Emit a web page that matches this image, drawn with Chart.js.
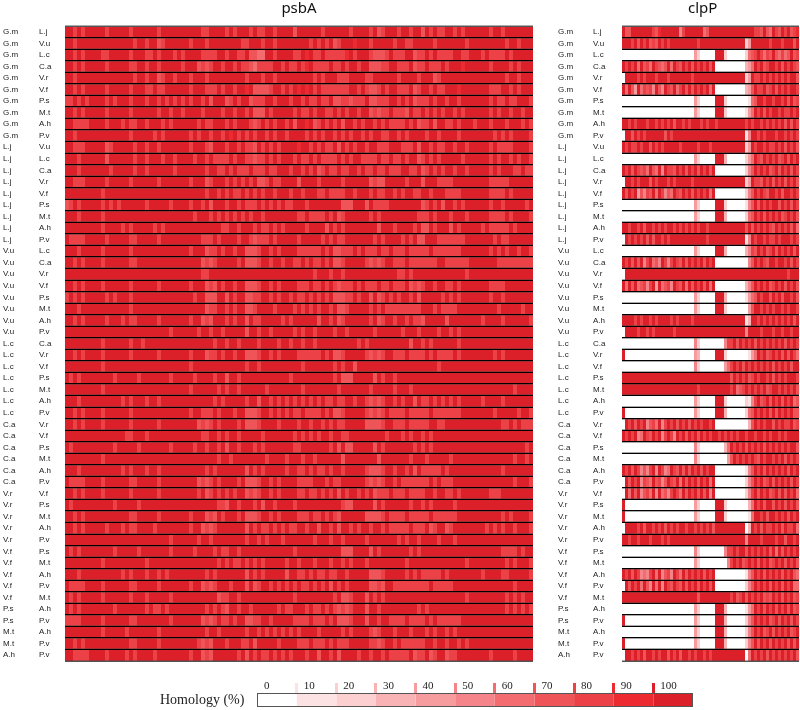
<!DOCTYPE html>
<html>
<head>
<meta charset="utf-8">
<title>psbA and clpP homology</title>
<script src="https://cdn.jsdelivr.net/npm/chart.js@4"></script>
<style>
  html, body { margin: 0; padding: 0; background: #fff; }
  canvas { position: absolute; }
  #psbaChart { left: 0; top: 0; }
  #clppChart { left: 545px; top: 0; }
  #legendChart { left: 160px; top: 670px; }
</style>
</head>
<body>
<canvas id="psbaChart" width="540" height="670"></canvas>
<canvas id="clppChart" width="255" height="670"></canvas>
<canvas id="legendChart" width="540" height="40"></canvas>
<script>
// Pair labels, one row per pairwise comparison
const speciesA = [
  "G.m","G.m","G.m","G.m","G.m","G.m","G.m","G.m","G.m","G.m",
  "L.j","L.j","L.j","L.j","L.j","L.j","L.j","L.j","L.j",
  "V.u","V.u","V.u","V.u","V.u","V.u","V.u","V.u",
  "L.c","L.c","L.c","L.c","L.c","L.c","L.c",
  "C.a","C.a","C.a","C.a","C.a","C.a",
  "V.r","V.r","V.r","V.r","V.r",
  "V.f","V.f","V.f","V.f","V.f",
  "P.s","P.s","M.t","M.t","A.h"
];
const speciesB = [
  "L.j","V.u","L.c","C.a","V.r","V.f","P.s","M.t","A.h","P.v",
  "V.u","L.c","C.a","V.r","V.f","P.s","M.t","A.h","P.v",
  "L.c","C.a","V.r","V.f","P.s","M.t","A.h","P.v",
  "C.a","V.r","V.f","P.s","M.t","A.h","P.v",
  "V.r","V.f","P.s","M.t","A.h","P.v",
  "V.f","P.s","M.t","A.h","P.v",
  "P.s","M.t","A.h","P.v","M.t",
  "A.h","P.v","A.h","P.v","P.v"
];
const legendTicks = [0, 10, 20, 30, 40, 50, 60, 70, 80, 90, 100];

// Homology per alignment window, in tens of percent (0-9, a = 100)
const psbaRows = [
  "aa8a8aaaaa 8aaaaa8aaa aaa8aaaaaa aaaa88aaaa 8a8aaa8a88 aa8aaaa7aa aaaa8aaaaa a8aaaa8a78 aaa8aa8aa7 a8a88aa8a8 aaaaaa8aa8 aaaaaaa",
  "aa8aaaaaaa aaaaaaa8aa 8aa78aaaaa a8aaa8aaaa aaaa88aaa8 aa8aaaaaaa a8a8a8a78a aa9aaa8aaa aa8aa88aaa aa8aaaaaaa 8aaaaaaaaa 8aa8aaa",
  "aa8a8aaaa8 8aaaaa8aaa 88a8aaa8a8 aaaa8888aa 8aa88a7766 aa8aaaa88a 9a88a88888 9a8aaa8777 8a888aa788 a8a8888aa8 8aaa8a8888 a8aaaaa",
  "aa8a8aaaaa 8aaaaa88aa 8aa8aaaaa8 aaa7878aa8 aa8a887688 88aa8a88a8 9a8888a88a 8aa8aa7778 8aa888a788 a888a8aaa9 aaaaaa8aaa a8a8aaa",
  "aa8aaaaaaa aaaaaaa8aa 8aa78aa8aa a8aaa8aaaa aaaaa8aaa8 aa8aaaaaaa aa8a8aaa88 8aaaa88aaa aaa8aaaa8a aa78aaaaaa aaaaaaaaaa 8aa8aaa",
  "aa8a8aaaaa 8aaaaa8aaa 88a88aaaaa a8aaa888a8 aa8aa9a777 78aa8a8a9a 9a8a888888 8aa8a8778a 8aa888a78a a8a88aaa9a aaaaaa888a a8a8aaa",
  "88a8a8aaaa 8a8aaa8aaa 8aa8a8a8a8 a8aa8a7aaa 78a8aa7888 aa8aaa8aa8 a88a88a778 87888a7788 8aa8a8a788 8a8aa8aa8a aaaaaa8a88 a88aaa8",
  "aa8a8aaaaa 8aaaaa8aaa aaa8aa8aa8 aaaa8aaaa8 aa8aa8a777 a8aaaaa8a8 8a8aa88a8a 8aa8aa7878 8a8887a88a 8a8a8aa8a8 aaaaaa8a8a a8aa8aa",
  "aa8888aaaa 8aaa8a88aa 8aaa8a8aaa aaa8a88aaa 8a8aaa878a 8a8aa8a7aa 9a78a8a8a7 aa8a8aa8a8 a8888a8a78 8a7aa88a8a aa8aaa8aaa 8aaa8a8",
  "aa8aaaaaaa aaaaaa8aaa aa8a8aaaaa a8a8aa8aa8 a9a8a8a8aa 8a8aa8aaaa 8a8a8aa8a8 a8aa8a8aa8 8aa8a8aaaa 8aa8aaaa8a aaaaaaa8a8 a8aaaa8",
  "aa888aaaaa 78aaaaa8aa 8aa8aaaaaa a8aaa87aaa 8aa8a887a8 a8a8aaaa9a a8a8a88a7a 8a8aa8aa88 8aaa888a7a a8a88aa8aa 8aaaaa8a88 88aaaa8",
  "aaa8aaaaaa 7aaaaaa8aa 8aaa8aa8aa aa8aa8a888 8a8aa88788 a8a8aaa8a8 8a8a8888a8 a8aa8888a8 8a88a8aa78 a8a8aaaaa8 aaaaaa8a8a a8a8aa8",
  "aaa8aaaaaa a8aaaaa8aa 8aaaaaa8aa aaaaa8aa88 a8a888a888 a88aaa8aa8 a8a78a88a8 8aa8a88a88 a888aa88a7 8a8a8aa8aa 8aaaaa8a8a aa88a88",
  "aa888aaaaa 8aaaaa8aaa aaa8aaaaaa a8aaa78aaa 8a8a8a8a77 8a88aaaa7a aaa8aaaaa8 aaaaaa7877 aaaaa8aaa7 aaa8888aaa aaaaaa8888 8aaaaaa",
  "aaaaaaaaa8 aaaaaaaaaa aaaaaaaaaa aaaaa8aa8a 8a88a8a8a8 aa8aaa8aa8 aaa88a8888 aa8aaa8a88 aa8a8aa88a a8aaa8888a aaaaaa8888 a8aaaaa",
  "78a8aaaaa8 a8a8aaaaaa 8aaaaa8aaa a8aa8a7aaa 8aa8a888a8 a8a8a88aaa 8aaaaaaaa7 77aaa7a888 8aaaaaaaa7 8a8a7aa8a8 aaaaaa8aa8 aaaaa8a",
  "aaa8aaaaa8 aaaaaaaaaa aaaaaaaaaa aa8aaa8a8a 8a8a8a8aa8 aaaaaaaa88 a8888a8a78 aaaaaa8a8a aaaaaaaa88 8a8aaa8aaa 8aaaaa8888 a8aaaa8",
  "aaaaaaaaa8 aaaa8a8aaa aa8a8aaaaa aaaaaaaaa8 8aa8aaa8a8 8a8a8aaaaa 8aaaa7a8a8 aaaaaaaa7a aa8aaaa8a7 7a8aaa7a8a aaaa8a8888 8a8aaaa",
  "a8888aaaaa 8aaaaa88aa aaa8aaaaaa aaaa888a8a aaa8aa8788 8a8aaaaa8a aaaa8a8a88 aaaaaaa8a8 aaaa8a8a77 aaa8888888 aaaaaaa8a8 8aaaaaa",
  "aaa8aaaaa8 aaaaaa8aaa aaaaaaaaaa a8aaa788a8 aa8aa7778a a8a8aaaa88 8888a8a778 88a8a888a8 8a888a8888 8a8888888a aaaaaa8a8a 8aa8aa8",
  "aa8a8aaaa8 aaaaaa88aa aaaaaaaaaa aaaa7878aa aaa8a7778a a8aa8aa88a 8a88a8a778 aaaaa87878 aa888a8888 888aa88888 8aaaaaaa88 8888888",
  "aaaaaaaaaa aaaaaaaaaa aaaaaaaaaa aaaa88aaaa aaaaaaaaaa aaaaaaaaaa aa8aaa8aa8 aaaaaaaaaa aaa88a8aaa aaaaaaaaaa 8aaaaaaaaa aaaaaaa",
  "aa8a8aaaa8 aaaaaa8aaa aaa8aaaaaa a8aaa787a8 aa8aa7778a a8a8aaaa88 8a88a8a878 88a8a888a8 8a888a7878 aa8aa88a8a aaaaaa8888 aaaaaaa",
  "8a8a8aaaaa 8a8aaa8aaa aaaaaaaaaa aa8aa777aa 7a8aa7788a a8a8aa8a88 a8a8a8a777 88a8aa7a78 a8a8aa8a7a aaaa8a8a8a aaaaaa8aa8 aaaaaaa",
  "aaa8aaaaaa aaaaaa8aaa aaaaaaaaaa aaaaa788aa 8a8aa778aa aa8aaaa8a8 a8a8aa8a77 8aaaaa8a8a 888888888a aa8a8888aa aaaaaaaa8a aaaa8aa",
  "aa8a8aaaaa 8aaa8a88aa aaa8aaaaaa a8aa787aaa 8a8aa7a88a aaaa8a8aaa aaa7aa8a78 aaaaaa8a78 aa8aa8a887 aaaaa7aaaa aaaa8aaaa8 aaaaaa8",
  "aaaaaaaaaa aaaaaaaaaa aaaaaa8aaa aaa8aa8aa8 aaaaa7aa8a a8aaaaa8a8 aa8aaaa8aa 8aaaaaa8aa aaaa8aaa8a aaa8aa8a8a aaaaaaaaaa aaaaaaa",
  "aaaaaaaaa8 aaaaaa8aa8 aaaaaaaaaa aaaaaaa8aa 8aa8aaaa8a aaa8aa8aa8 aa8aaaaaaa aaa8a8aaaa aaaaaa7aa8 a8aaaaaa8a aaaaaaaaaa aaaaaaa",
  "aa8a8aaaa8 aaaaaa8aaa aaa8aaaaaa a8aaa788a8 aa8aa7778a a8a8aaaa88 8888a8a778 aaaaa87878 aa888a8888 a8a8888a8a aaaaaaa8a8 aaaaaaa",
  "aaaaaaaaa8 aaaaaaaaaa aaaaaaaaaa a8aaaaaaaa aaaaa8aa8a aaaaaaaaa8 aaaaaaa8a8 aa7aaaaaaa aaaaaaaaaa aaa8aaaaaa aaaaaaaaaa aaaaaaa",
  "a8a8aaaaaa aa8aaaaa8a aaaaaa8aaa aa8aaaa8aa 7aa8aaaaaa aaaaaa8aaa aaaaaaa8a7 77aaaaa7a8 aa8aaaaaaa aaaaaaaaaa aaaaaaaaaa aaaaaaa",
  "aaaaaaaaa8 aaaaaaaaaa aaaaaaaaaa a8aaaaaa8a 8aa8aaaaaa 8aaaaaaaa8 aaaaaaaa8a aaaaaa8aaa aa8aaa8aaa aaaaaaaaaa aaaaaaaaaa aa8aaaa",
  "aaa8aaaaaa aaaa8a8aaa 8aa8aaaaaa aaaaaaa8a8 aaaaa8aa7a a8a8a8a8a8 a8a8a88a88 aa8aa87878 aa8a8aa7a8 8a8a8a8a8a aaaa8aaaa8 aaaaaaa",
  "aa8a8aaaa8 aaaaaa8aaa aaaaaaaaaa a8aa888a8a aa8aa7778a a8a8a8a88a 8888a8a778 aaaaa87878 a8888a8888 8a8888888a aaaaaaa8aa aaa8aa8",
  "aa8a8aaaa8 aaaaaa8aaa aaa8aaaaaa aaa7878a8a aaa8a7778a aaa8aaaa8a a8aa8a8a88 aaaaa77778 aa888a8888 8aa88aaaaa aaaaaaaaa8 8a8a888",
  "aaaaaaaaaa aaaaa88aaa 8aaaaaaaaa aaaa88aa8a 8aa8aaaaa8 aaaaaaa8a8 a8a8aa8aa8 8aaaaaaaaa 8aaa8a8aa8 a8aaaaaaaa aaaaaaaaaa aaaaaaa",
  "a8aaaaaaaa aa8aaaaa8a aaaaaa8aaa aa8aa8aa8a 7aa8aaa8a8 aaaaaaa88a aaaaaa8a7a 77aaaaa7a8 aaaaaaa8a8 a8aaaaaaaa aaaaaaaaaa aaaaa8a",
  "aaaaaaaaa8 aaaaaaaaaa aaaaaaaaaa aaaaaaaa8a a8aaaaaaaa 8aaaa8aaa8 aa8aaaaaa7 aaaaaaaa7a aaaaaa8aaa 8aaaaa8aaa aaaaaaaaaa aa8aa8a",
  "aaa8aaaaaa aaaa8a8aaa 8aa8aaaaaa aaaaa8a8aa aaaaa7a8a8 aaaaa8aa88 a8a88a8aa8 aaaaa87778 aa8aa8a7a8 8888a8aaaa aaaaaaaaa8 aaaaaaa",
  "a8888aaaa8 aaaaaa88aa aaa8aaaaaa aaa7878a8a aaa8a7778a a8a8aaaa88 88aaa8a88a aaaaa87878 aa8a888888 8a8a888aaa aaaaaaaaaa aa8aaa8",
  "aa8a8aaaa8 aaaaaa8aaa aaa8aaaaaa aaa8a78a8a 8a8aa7878a a8a8aaaa88 a88a8a8a7a 8aa8a8a788 8a888a8888 aa8aa88a8a aaaaaa888a aaaaaaa",
  "a8aaaaaaaa aa8aaaaa8a aaaaaaaaaa aaaaaaaa88 7aa8aaa8a7 aa8aaaa8aa aaaaaaaaa8 77aaaaa7a8 aaaaaa8aa8 a8aaaaa8aa aaaaaaaaaa aaaaaaa",
  "aa8a8aaaaa aaaaaa88aa aaa8aaaaaa a8aaa787a8 aaa8a7778a a8a8aaaa88 8a88a8a87a aaaaa77778 a8888a8888 8a888888aa aaaaaaaaa8 a8aaaa8",
  "aa8a8aaaaa 8aaa8a88aa aa8aaaaaaa a8aa7878aa aaaaa7a8a8 8a8a8a88aa 8aa7aa8a7a a8a8aa8aa8 a88888a888 a78aa78aaa aaaaa8a8a8 aa8aaa8",
  "aaaaaaaaaa aaaaaaaaaa aaaaaa8aaa aaa8aa8aaa aaaaa8aa8a 8aaa8aaaaa aa8aaa8aa8 aaaaa8aaaa aaa8a8aa8a aaa8aaa8aa aaaaaaaaaa aaaaaaa",
  "a8a8aaaaaa aa8aaaaa8a aaaaaa8aaa aa8aaaa8a8 8aa8aaaaaa aaaaaaa8aa aaaaaaaaa7 77aaaa7a8a aaaaaa8a8a aaaaaaaaaa aaaaaaaaa8 888a8aa",
  "aaaaaaaaa8 aaaaaaaaaa 8aaaaaaaaa aaaaaaaa8a 8a88a8a8a8 aaaaa8aa8a aa8aaa8aa8 a8aaa8aaaa aaaaa8aaaa aaaaaaaaaa 8aaaaaaaaa 8a8aaa8",
  "aaa8aaaaaa aaaa8a8aaa 8aa8a8aaaa aaaaa8a8aa aaaaa7a8a8 aaaaa7aa88 a8a88a88aa 8aaaaa7778 aaaaa8a8a8 8888a8aaaa aaaa8aaaa8 8aaaaa8",
  "a8888aaaa8 aaaaaa88aa aaa8aaaaaa a8aa7878aa a8aaa7a78a a8a8a8a8a8 8a8a8a7a8a 8aaaaa7787 aa88888888 8a88888aaa aaaaaaaaaa aa8aaaa",
  "a8a8aaaaa8 aaaaaa8aaa 8aaaaa8aaa aaaaaaaa78 8aa8aaaaaa aaaaaaa8aa aaaaaaa8a7 78aaa7a8a8 aaaaaaaaaa aaaaaaaaaa 8aaaaaaaaa 8a8a8aa",
  "a8a8aaaaaa aa8aaaaaaa 8a88a8aaaa aaaaa8a8a8 7aa8aa8aaa aaa8a88aaa 8a88a8a878 78aaa7aa8a aaaaaaaa8a 8aaaaaaaaa aaaaaaaaaa 8a8a8a8",
  "8888aaaaa8 aaaaaa88aa aaaaaa8aaa aaaa7878a8 8a8aa7788a a8aaaaa888 8a888a8a77 78aaa7aa8a a8888a8888 a8a888888a aaaaaaaaaa aaaaaaa",
  "aaaaaaaaa8 aaaaa8aaaa aaa8aaaaaa aaaaa8aa8a aaaaa8aa8a 8a8a8a8a8a aaa8aaaaa8 a8aaaa878a aa8aaa8aaa 8a8aa8a8aa aaaaaaaaaa aaaaaaa",
  "aa8a8aaaaa aaaaaa88aa aaa8aaaaaa aaa8787aaa 8aaa88a7aa aaa8aaaa88 8a888a8a88 8aaaaa8878 aa8a888888 aa8aa8aa8a 8aaaaaaaaa aaaaaaa",
  "aa8888aaaa 8aaaa8a8aa aa8aaaaaaa a8aa787aaa aaa8a7a8a8 8a8a8a8aaa 8aa7aa8a7a aaa8aa8aa8 a88888a788 a78aa788aa aaaaaa8aaa aa8aaaa"
];
const clppRows = [
  "a77aaaaaaa 879aaaaaa5 8aaaaaa67a aaaaaaaaaa aaaa887a76 a87a8a789",
  "aaa8a7a8a7 87a8a8aaaa aaaaa8aaaa aaaaaaaaaa a24aaaaaa8 aaa8aaa7a",
  "0000000000 0000000000 0000420000 0aaa200000 02678a8687 a76867a78",
  "a8a8a6a786 a8767a6a87 a8a7a8a8a7 a000000000 0346a8a78a a8a7a8a87",
  "0aaaa8a8aa a8aaa8aaaa aaa8aaaaaa aaaaaaaaaa a24a88a8a8 a8a8a8aa7",
  "a6a74a6878 5a75a87a68 a7a7a8a8a6 a000000000 0347a88a78 a7a8a8aa8",
  "0000000000 0000000000 0000420000 0aaa200000 00167aa8aa 8aa8a7a78",
  "0000000000 0000000000 0000420000 0aaa200000 0146a8a7a8 aa8a88a8a",
  "aa8a8aaa8a a8a8a8a7aa 8a8aaa8a8a a8aaaaaaaa a8a8aa8a8a 8a8a7a7a8",
  "0aa7a8a8aa aaaa7a8aaa aaaaaaaaaa aaaaaaaaaa a15aa8a8aa a8aa8a8a8",
  "a8a88a8aa7 a8a8aaaaa8 aaaaa8aaa8 aaaaaaaaaa a24a8aa8a8 8a8a7a8a7",
  "0000000000 0000000000 0000420000 0aaa300000 0246a87a8a 8a78a7a8a",
  "a8a7a8786a 76a5a887a8 a7a8a7a8a7 a000000000 0257a8a8a7 8a7a8a7a8",
  "0aa8a8aaa7 a8aaa8a8aa aaa8aaaaaa aaaaaaaaaa a24a887a8a 7a8a7a8a7",
  "a7a8a47587 a6a8576a87 a8a7a8a8a6 a000000000 0257a8a87a a8a7aa8a8",
  "0000000000 0000000000 0000420000 0aaa200000 0157a7a8a8 aa7a8a7a8",
  "0000000000 0000000000 0000420000 0aaa300000 0267a8a7a8 a8a78a8a7",
  "aa8aa8a7aa 8a8a8aa8a8 a8a8a8aa8a aaaaaaaaaa a7a7a8a8a8 7a8a8a7a6",
  "0a8a8a8a7a 7aa8a8aaaa aaaaaaaa8a aaaaaaaaaa a15a8aa8a8 8a8aaa8a8",
  "0000000000 0000000000 0000420000 0aaa300000 03587a8a78 a7a8a8a7a",
  "a8a7a7a58a 675a858a87 a7a8a8a7a8 a000000000 0057a8a87a a8aa8a7a8",
  "0aaaaaaaaa aaaaaaaaaa aaaaaaaaaa aaaaaaaaaa aaaaaaaaaa aaaaa8aaa",
  "a6a7a67858 a4a6785a87 a6a7a8a7a6 a000000000 0357a8a8a7 8a8a7a8a7",
  "0000000000 0000000000 0000420000 0aaa300000 01467a8aa7 a8a7aa8a7",
  "0000000000 0000000000 0000420000 0aaa200000 0047aa8a8a 8aa8a8aa8",
  "aaaa8a8aa8 a8aaaa8a8a aaa8aaaaaa aaaaaaaaaa a13aa8a8a8 a8a8a8a7a",
  "0aaaa8aa8a 8aaaaaa8aa aaaaaaaaaa aaaaaaaaaa a5aaaa8aaa 8aa8aa8aa",
  "0000000000 0000000000 0000520000 0000588a7a 8a8a7a8a8a 8a8a7a8a8",
  "a000000000 0000000000 0000430000 0aaa200000 00146a8a78 a8a7a7a86",
  "0000000000 0000000000 0000520000 0000468a8a 7a8a8a8a8a 7a8a8a7aa",
  "aaaaaaaaaa aaaaaaaaaa aaaaaaaaaa aaaaaa7a8a 8a78a8aa8a 7a8a8aaa8",
  "aaaaaaaaaa aaaaaaaaaa aaaaa8aaaa aaaaaa8a67 8a8a8a8a78 aa8a8a8a7",
  "0000000000 0000000000 0000420000 0aaa200000 02158a78a7 a8a7a8a67",
  "a000000000 0000000000 0000420000 0aaa300000 0267a8a8a7 a7a8a8a77",
  "0a8a7a8a57 86a58a8a7a 8a7a8a8aa8 a000000000 0037a8a8aa 7a8a88a78",
  "a8a8a56a87 a8a58a85a8 a7a8a7a8a8 aa8a8a8a8a a8aa8aa8a8 aa8a8aaaa",
  "0000000000 0000000000 0000520000 000036a8a8 a7a8a8a7a8 a8a8a8aa7",
  "0000000000 0000000000 0000520000 0000047a8a 8a8a87a8aa 8a8a7a8a8",
  "a8a7a85758 a5a856a87a 7a7a8a7a8a a000000000 0157a8a7a8 a8a8a7a8a",
  "0a7a8a5876 a7857a87a6 a7a8a7a8a6 a000000000 0257a8a78a 7a8a8a7a8",
  "0a6a7a5786 a5a6758a86 a7a8a7a7a5 a000000000 0258a7a8a7 8a7a7a8a6",
  "a000000000 0000000000 0000420000 0aaa200000 0036a8a7aa 7a8a7a8a7",
  "a000000000 0000000000 0000420000 0aaa200000 0016aa8a7a a8a8a7a8a",
  "0aaaa8a7aa 8a8a7a8a8a a8aa8a8a8a 7aaaaaaaaa a03a8a7a88 a8a7a88a6",
  "aa8aa8aaa8 aaa8a8aaaa aaaaaaaaaa aaaaaaaaaa a5aaaa8aaa a8aa7aa8a",
  "0000000000 0000000000 0000520000 0000588a8a a7a8a8a8a7 a6a7a8a8a",
  "0000000000 0000000000 0000420000 0000058a8a 78a8a7a8a7 8a8a7a8a7",
  "a8a7a85658 a6a5785a86 a7a8a8a7a8 a000000000 0157a8a7a8 a8a7a8a76",
  "0a7a8a6a75 a6a5a87a87 a7a8a7a8a7 a000000000 0257a8a8a7 a8a7a8a66",
  "aaaaaaaaaa aaaaaaaaaa aaaaa7aaaa aaaaaa8a78 a7a8a8a787 a8a7a8a78",
  "0000000000 0000000000 0000420000 0aaa300000 0146a8a7a8 a7a8a7a78",
  "a000000000 0000000000 0000420000 0aaa300000 0257a8a8a7 8a7a8a7a8",
  "0000000000 0000000000 0000420000 0aaa300000 0257a8a78a 7a8a8a78a",
  "a000000000 0000000000 0000420000 0aaa300000 0257a7a8a7 a8a8a7a7a",
  "0aa8a8a7aa 8a8aa7a8a7 aa8a8aa8a8 aaaaaaaaaa a06a8a8a7a 8a8a8a8a7"
];

// Colour for each legend step, white at 0 to dark red at 100
const homologyColors = [
  "#ffffff", "#fde2e3", "#fcd0d1", "#f9b3b5", "#f69c9f", "#f48489",
  "#f26c70", "#ef5458", "#ec4146", "#ec2a2f", "#dc2029"
];

const labelFont = { family: "'Liberation Sans'", size: 8 };

// One stacked dataset per alignment window, coloured per row
function buildWindows(rows) {
  const cells = rows.map(r => r.replace(/ /g, ""));
  const windows = [];
  for (let w = 0; w < cells[0].length; w++) {
    windows.push({
      data: cells.map(() => 1),
      backgroundColor: cells.map(c => homologyColors[parseInt(c[w] || "a", 11)]),
      borderWidth: 0,
      inflateAmount: 0,
      categoryPercentage: 1,
      barPercentage: 1,
    });
  }
  return windows;
}

function renderPanel(id, title, rows, padding, widthA, widthB) {
  const datasets = buildWindows(rows);
  const ctx = document.getElementById(id).getContext("2d");

  new Chart(ctx, {
    type: "bar",
    data: { labels: speciesB, datasets },
    options: {
      indexAxis: "y",
      responsive: false,
      animation: false,
      layout: { padding },
      plugins: {
        legend: { display: false },
        tooltip: { enabled: false },
        title: {
          display: true,
          text: title,
          fullSize: false,
          color: "#111",
          font: { family: "'Noto Sans'", size: 15, weight: "normal", lineHeight: 1.2 },
          padding: { top: 0, bottom: 8 },
        },
      },
      scales: {
        x: { type: "linear", stacked: true, display: false, min: 0, max: datasets.length },
        y: {
          stacked: true,
          weight: 0,
          afterFit: s => { s.width = widthB; },
          border: { display: false },
          grid: {
            z: 2,
            offset: true,
            drawTicks: false,
            color: c => (c.index === 0 || c.index === undefined ? "#555" : "#000"),
          },
          ticks: { autoSkip: false, padding: 0, crossAlign: "far", color: "#222", font: labelFont },
        },
        rowA: {
          type: "category",
          labels: speciesA,
          position: "left",
          offset: true,
          weight: 1,
          afterFit: s => { s.width = widthA; },
          border: { display: false },
          grid: { z: 1, offset: true, drawTicks: false, lineWidth: 2, color: "rgba(70,70,70,0.45)" },
          ticks: { autoSkip: false, padding: 0, crossAlign: "far", color: "#222", font: labelFont },
        },
      },
    },
  });
}

// Colour scale under the panels
function renderLegend() {
  const ctx = document.getElementById("legendChart").getContext("2d");
  const frame = {
    id: "frame",
    afterDraw(chart) {
      const a = chart.chartArea;
      chart.ctx.strokeStyle = "#555";
      chart.ctx.lineWidth = 1;
      chart.ctx.strokeRect(a.left + 0.5, a.top + 0.5, a.width - 1, a.height - 1);
    },
  };

  new Chart(ctx, {
    type: "bar",
    data: {
      labels: ["Homology (%)"],
      datasets: legendTicks.map((t, i) => ({
        data: [1],
        backgroundColor: homologyColors[i],
        borderWidth: 0,
        inflateAmount: 0,
        categoryPercentage: 1,
        barPercentage: 1,
      })),
    },
    options: {
      indexAxis: "y",
      responsive: false,
      animation: false,
      layout: { autoPadding: false, padding: { left: 0, right: 7, top: 0, bottom: 3 } },
      plugins: { legend: { display: false }, tooltip: { enabled: false } },
      scales: {
        x: {
          type: "linear",
          position: "top",
          stacked: true,
          min: 0,
          max: legendTicks.length,
          afterFit: s => { s.height = 23; },
          border: { display: false },
          grid: {
            drawOnChartArea: false,
            tickLength: 10,
            tickWidth: 3,
            tickColor: c => (c.index === 0 ? "transparent" : homologyColors[c.index]),
          },
          ticks: {
            stepSize: 1,
            align: "start",
            maxRotation: 0,
            padding: -10,
            labelOffset: 7,
            color: "#222",
            font: { family: "'Liberation Serif'", size: 11 },
            callback: v => legendTicks[v],
          },
        },
        y: {
          stacked: true,
          afterFit: s => { s.width = 97; s.paddingTop = 0; s.paddingBottom = 0; },
          border: { display: false },
          grid: { display: false },
          ticks: { padding: 0, crossAlign: "far", color: "#222", font: { family: "'Liberation Serif'", size: 14 } },
        },
      },
    },
    plugins: [frame],
  });
}

document.addEventListener("DOMContentLoaded", () => {
  renderPanel("psbaChart", "psbA", psbaRows, { left: 3, right: 7, top: 0, bottom: 9 }, 36, 26);
  renderPanel("clppChart", "clpP\u00a0\u00a0\u00a0\u00a0", clppRows, { left: 13, right: 1, top: 0, bottom: 9 }, 35, 29);
  renderLegend();
});
</script>
</body>
</html>
